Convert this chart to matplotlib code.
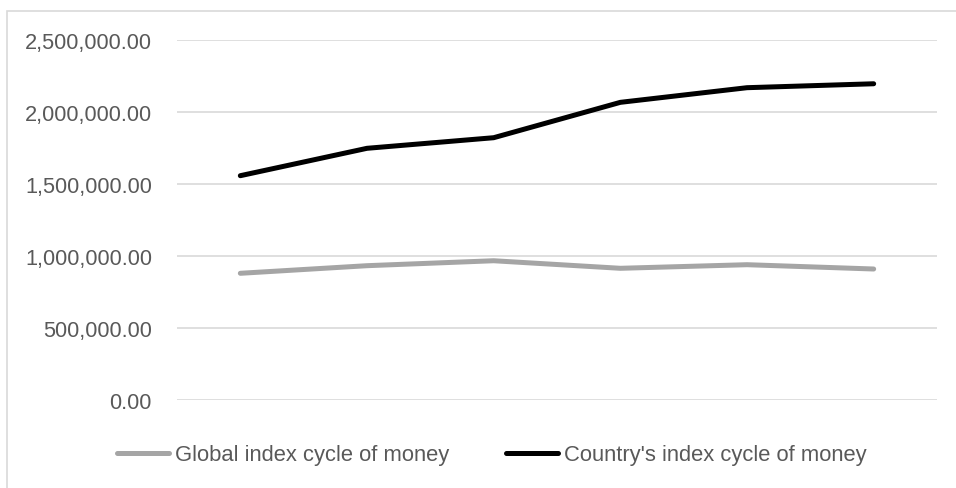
import matplotlib
matplotlib.use("Agg")
import matplotlib.pyplot as plt
from matplotlib.ticker import FuncFormatter, MultipleLocator
from matplotlib.patches import Rectangle

categories = ["1", "2", "3", "4", "5", "6"]
global_index = [877800, 930600, 965000, 912500, 937500, 907600]
country_index = [1555600, 1745800, 1819400, 2065000, 2166700, 2194000]
series_names = ["Global index cycle of money", "Country's index cycle of money"]

plt.rcParams["font.family"] = ["Liberation Sans", "DejaVu Sans"]

fig = plt.figure(figsize=(9.56, 4.89), dpi=100)
ax = fig.add_axes([177/956, 1 - 400.7/489, (937-177)/956, (400.7-40.7)/489])

x = list(range(len(categories)))
ax.plot(x, global_index, color="#a5a5a5", lw=3.6, solid_capstyle="round", solid_joinstyle="round", label=series_names[0])
ax.plot(x, country_index, color="#000000", lw=3.6, solid_capstyle="round", solid_joinstyle="round", label=series_names[1])

ax.set_xlim(-0.5, len(categories) - 0.5)
ax.set_ylim(0, 2500000)
ax.yaxis.set_major_locator(MultipleLocator(500000))
ax.yaxis.set_major_formatter(FuncFormatter(lambda v, p: f"{v:,.2f}"))
ax.grid(axis="y", color="#d9d9d9", lw=1.2)
ax.set_axisbelow(True)
ax.set_xticks([])
for s in ax.spines.values():
    s.set_visible(False)
ax.tick_params(axis="y", length=0, pad=18, labelsize=15.7, labelcolor="#595959")

leg = fig.legend(loc="center", bbox_to_anchor=(492/956, 1 - 456/489), ncol=2, frameon=False,
                 fontsize=15.8, handlelength=2.35, handletextpad=0.28, columnspacing=2.6)
for t in leg.get_texts():
    t.set_color("#595959")

fig.patches.append(Rectangle((7/956, -0.1), 1.5, 1 - 12/489 + 0.1, transform=fig.transFigure,
                             fill=False, edgecolor="#d9d9d9", lw=1.2))

fig.savefig("out.png", dpi=100)
